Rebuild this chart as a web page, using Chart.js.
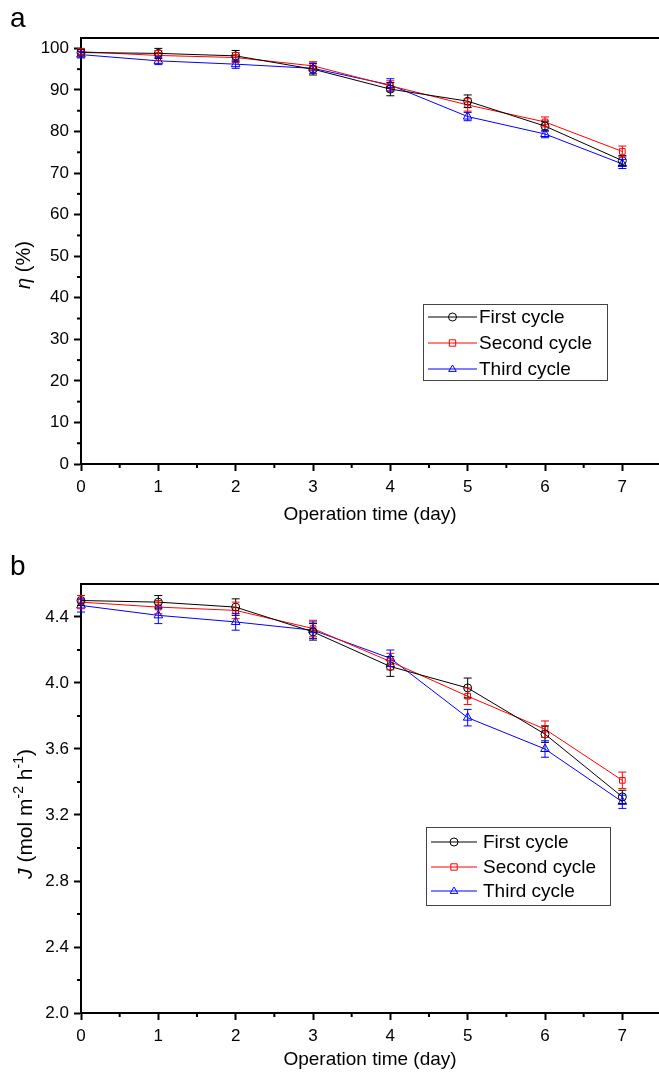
<!DOCTYPE html>
<html><head><meta charset="utf-8">
<script src="https://cdn.jsdelivr.net/npm/chart.js@4.4.1/dist/chart.umd.min.js"></script>
<style>
html,body{margin:0;padding:0;background:#fff;overflow:hidden;width:659px;height:1075px;position:relative}
.wrap{position:absolute;left:0;width:667px;overflow:visible}
#w1{top:0;height:540px}
#w2{top:540px;height:535px}
canvas{display:block}
</style></head><body>
<div class="wrap" id="w1"><canvas id="c1" width="667" height="540"></canvas></div>
<div class="wrap" id="w2"><canvas id="c2" width="667" height="535"></canvas></div>
<script>
// ---------- data ----------
const days = [0, 1, 2, 3, 4, 5, 6, 7];
const xTicks = [0, 1, 2, 3, 4, 5, 6, 7];
const xMinor = [0.5, 1.5, 2.5, 3.5, 4.5, 5.5, 6.5];
const seriesLabels = ['First cycle', 'Second cycle', 'Third cycle'];

// panel a: rejection eta (%)
const etaFirst  = [99.0, 98.8, 98.2, 95.0, 90.2, 87.3, 81.3, 73.0];
const etaSecond = [99.2, 98.3, 97.8, 95.8, 91.0, 86.4, 82.3, 75.2];
const etaThird  = [98.5, 97.0, 96.2, 95.2, 91.2, 83.6, 79.4, 72.2];
const etaFirstErr  = [0.8, 1.2, 1.3, 1.4, 1.6, 1.5, 1.2, 1.2];
const etaSecondErr = [0.8, 1.2, 1.2, 1.0, 1.2, 1.5, 1.2, 1.3];
const etaThirdErr  = [0.8, 0.9, 1.0, 1.2, 1.5, 1.0, 0.9, 1.1];
const etaTicks = [0, 10, 20, 30, 40, 50, 60, 70, 80, 90, 100];
const etaMinor = [5, 15, 25, 35, 45, 55, 65, 75, 85, 95];

// panel b: flux J (mol m-2 h-1)
const jFirst  = [4.50, 4.49, 4.46, 4.31, 4.10, 3.97, 3.69, 3.31];
const jSecond = [4.49, 4.46, 4.44, 4.33, 4.13, 3.92, 3.72, 3.41];
const jThird  = [4.47, 4.41, 4.37, 4.32, 4.15, 3.79, 3.60, 3.28];
const jFirstErr  = [0.03, 0.04, 0.05, 0.05, 0.06, 0.06, 0.05, 0.04];
const jSecondErr = [0.04, 0.04, 0.05, 0.05, 0.05, 0.05, 0.05, 0.05];
const jThirdErr  = [0.04, 0.05, 0.05, 0.05, 0.05, 0.05, 0.05, 0.04];
const jTicks = [2.0, 2.4, 2.8, 3.2, 3.6, 4.0, 4.4];
const jMinor = [2.2, 2.6, 3.0, 3.4, 3.8, 4.2];

// ---------- styling ----------
const FONT = 'Liberation Sans, Arial, sans-serif';
const colors = ['#000000', '#ff0000', '#0000ff'];
const styles = ['circle', 'rect', 'triangle'];

function pts(vals) { return days.map((d, i) => ({ x: d, y: vals[i] })); }

function makeDatasets(vals, errs) {
  return vals.map((v, k) => ({
    label: seriesLabels[k],
    data: pts(v),
    err: errs[k],
    borderColor: colors[k],
    backgroundColor: 'rgba(0,0,0,0)',
    borderWidth: 1,
    pointStyle: styles[k],
    pointRadius: styles[k] === 'triangle' ? 5 : 4,
    pointBorderWidth: 1,
    pointBorderColor: colors[k],
    pointBackgroundColor: 'rgba(0,0,0,0)',
    tension: 0,
    clip: false
  }));
}

function drawMarker(ctx, style, x, y, r, color) {
  ctx.save();
  ctx.strokeStyle = color; ctx.lineWidth = 1;
  ctx.beginPath();
  if (style === 'circle') ctx.arc(x, y, r, 0, Math.PI * 2);
  else if (style === 'rect') ctx.rect(x - r * 0.8, y - r * 0.8, r * 1.6, r * 1.6);
  else { ctx.moveTo(x, y - r); ctx.lineTo(x + r * 0.95, y + r * 0.6); ctx.lineTo(x - r * 0.95, y + r * 0.6); ctx.closePath(); }
  ctx.stroke();
  ctx.restore();
}

const errorBars = {
  id: 'errorBars',
  afterDatasetsDraw(chart) {
    const ctx = chart.ctx, ys = chart.scales.y;
    ctx.save();
    chart.data.datasets.forEach((ds, i) => {
      const meta = chart.getDatasetMeta(i);
      ctx.strokeStyle = ds.borderColor; ctx.lineWidth = 1;
      ds.data.forEach((p, j) => {
        const e = ds.err[j];
        const x = meta.data[j].x;
        const y1 = ys.getPixelForValue(p.y + e), y2 = ys.getPixelForValue(p.y - e);
        ctx.beginPath();
        ctx.moveTo(x, y1); ctx.lineTo(x, y2);
        ctx.moveTo(x - 4, y1); ctx.lineTo(x + 4, y1);
        ctx.moveTo(x - 4, y2); ctx.lineTo(x + 4, y2);
        ctx.stroke();
      });
    });
    ctx.restore();
  }
};

const decor = {
  id: 'decor',
  afterDraw(chart, args, o) {
    const ctx = chart.ctx;
    const { left, right, top, bottom } = chart.chartArea;
    const xs = chart.scales.x, ys = chart.scales.y;
    ctx.save();
    ctx.strokeStyle = '#000';
    // top frame
    ctx.lineWidth = 2;
    ctx.beginPath(); ctx.moveTo(left - 1, top); ctx.lineTo(right + 2, top); ctx.stroke();
    // minor ticks
    o.xMinor.forEach(v => {
      const x = xs.getPixelForValue(v);
      ctx.beginPath(); ctx.moveTo(x, bottom); ctx.lineTo(x, bottom + 4); ctx.stroke();
    });
    o.yMinor.forEach(v => {
      const y = ys.getPixelForValue(v);
      ctx.beginPath(); ctx.moveTo(left, y); ctx.lineTo(left - 4, y); ctx.stroke();
    });
    // x title
    ctx.fillStyle = '#000';
    ctx.font = '19px ' + FONT;
    ctx.textAlign = 'center'; ctx.textBaseline = 'middle';
    ctx.fillText('Operation time (day)', o.xTitleX, o.xTitleY);
    // y title (mixed styles, rotated)
    ctx.save();
    ctx.translate(o.yTitleX, o.yTitleY);
    ctx.rotate(-Math.PI / 2);
    ctx.textAlign = 'left'; ctx.textBaseline = 'middle';
    let w = 0;
    o.yTitle.forEach(p => { ctx.font = p.f; w += ctx.measureText(p.t).width; });
    let cx = -w / 2;
    o.yTitle.forEach(p => { ctx.font = p.f; ctx.fillText(p.t, cx, p.dy || 0); cx += ctx.measureText(p.t).width; });
    ctx.restore();
    // panel letter
    ctx.font = '28px ' + FONT;
    ctx.textAlign = 'left'; ctx.textBaseline = 'alphabetic';
    ctx.fillText(o.panel, 10, o.panelY);
    // legend
    const L = o.legend;
    ctx.fillStyle = '#fff';
    ctx.fillRect(L.x, L.y, L.w, L.h);
    ctx.strokeStyle = '#444'; ctx.lineWidth = 1;
    ctx.strokeRect(L.x + 0.5, L.y + 0.5, L.w, L.h);
    chart.data.datasets.forEach((ds, i) => {
      const y = L.y + L.rows[i];
      ctx.strokeStyle = ds.borderColor; ctx.lineWidth = 1;
      ctx.beginPath(); ctx.moveTo(L.x + L.l0, y); ctx.lineTo(L.x + L.l1, y); ctx.stroke();
      drawMarker(ctx, ds.pointStyle, L.x + (L.l0 + L.l1) / 2, y, 4, ds.borderColor);
      ctx.fillStyle = '#000';
      ctx.font = '19px ' + FONT;
      ctx.textBaseline = 'middle';
      ctx.fillText(ds.label, L.x + L.tx, y + 1);
    });
    ctx.restore();
  }
};

function axisOpts(min, max, ticks, fmt, fitW, fitH, isX) {
  const base = {
    type: 'linear', min: min, max: max,
    afterBuildTicks: s => { s.ticks = ticks.map(v => ({ value: v })); },
    grid: { drawOnChartArea: false, drawTicks: true, tickLength: 7, tickWidth: 2, tickColor: '#000' },
    border: { display: true, color: '#000', width: 2 },
    ticks: { color: '#000', font: { family: FONT, size: 17 }, padding: isX ? 6 : 5,
             autoSkip: false, maxRotation: 0, callback: fmt }
  };
  if (isX) base.afterFit = s => { s.height = fitH; };
  else base.afterFit = s => { s.width = fitW; };
  return base;
}

function makeChart(id, datasets, yMin, yMax, yTicks, yFmt, topPad, xH, decorOpts) {
  return new Chart(document.getElementById(id), {
    type: 'line',
    data: { datasets: datasets },
    options: {
      responsive: false, animation: false, devicePixelRatio: 1,
      layout: { padding: { left: 0, right: 0, top: topPad, bottom: 0 } },
      plugins: { legend: { display: false }, tooltip: { enabled: false }, decor: decorOpts },
      scales: {
        x: axisOpts(0, 7.5, xTicks, v => String(v), 0, xH, true),
        y: axisOpts(yMin, yMax, yTicks, yFmt, 81, 0, false)
      }
    },
    plugins: [errorBars, decor]
  });
}

makeChart('c1',
  makeDatasets([etaFirst, etaSecond, etaThird], [etaFirstErr, etaSecondErr, etaThirdErr]),
  0, 102.5, etaTicks, v => String(v), 38, 76,
  { xMinor: xMinor, yMinor: etaMinor, xTitleX: 370, xTitleY: 515, yTitleX: 24, yTitleY: 265, panel: 'a', panelY: 27,
    yTitle: [ { t: 'η', f: 'italic 20px ' + FONT }, { t: ' (%)', f: '20px ' + FONT } ],
    legend: { x: 423, y: 304, w: 184, h: 76, rows: [13, 39, 65], l0: 5, l1: 54, tx: 56 } });

makeChart('c2',
  makeDatasets([jFirst, jSecond, jThird], [jFirstErr, jSecondErr, jThirdErr]),
  2.0, 4.6, jTicks, v => Number(v).toFixed(1), 44, 62,
  { xMinor: xMinor, yMinor: jMinor, xTitleX: 370, xTitleY: 520, yTitleX: 26, yTitleY: 274, panel: 'b', panelY: 35,
    yTitle: [ { t: 'J', f: 'italic 21px ' + FONT }, { t: ' (mol m', f: '21px ' + FONT },
              { t: '-2', f: '14px ' + FONT, dy: -7 }, { t: ' h', f: '21px ' + FONT },
              { t: '-1', f: '14px ' + FONT, dy: -7 }, { t: ')', f: '21px ' + FONT } ],
    legend: { x: 426, y: 287, w: 184, h: 78, rows: [15, 40, 64], l0: 5, l1: 51, tx: 57 } });
</script>
</body></html>
